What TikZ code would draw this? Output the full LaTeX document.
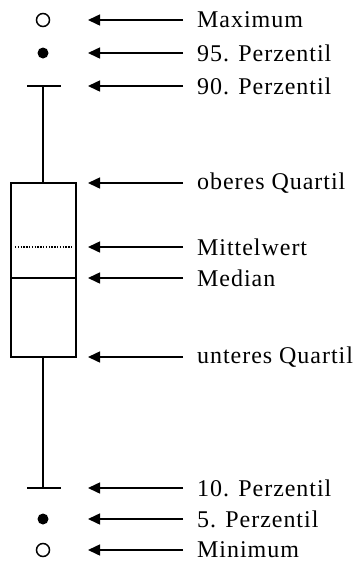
\documentclass[tikz,border=0pt]{standalone}
\usepackage{fontspec}
\setmainfont{Liberation Serif}[LetterSpace=4]
\usetikzlibrary{arrows.meta}
\begin{document}
\begin{tikzpicture}[x=1pt,y=-1pt,
  line/.style={line width=1.5pt,black},
  arr/.style={line width=1.5pt,-{Triangle[length=12pt,width=11pt]}},
  lbl/.style={anchor=west,inner sep=0pt,font=\fontsize{24}{26}\selectfont}]
\useasboundingbox (0,0) rectangle (360,563);
% symbols
\node[circle,draw,line width=1.5pt,minimum size=13pt,inner sep=0pt] (max) at (43,20) {};
\node[circle,fill=black,minimum size=11pt,inner sep=0pt] (p95) at (43,53) {};
\node[circle,fill=black,minimum size=11pt,inner sep=0pt] (p5) at (43,519) {};
\node[circle,draw,line width=1.5pt,minimum size=13pt,inner sep=0pt] (min) at (43,550) {};
\coordinate (p90) at (43,86);
\coordinate (p10) at (43,488);
\coordinate (oq) at (43,183);
\coordinate (uq) at (43,357);
% box
\draw[line] (11,183) rectangle (76,357);
\draw[line] (11,278) -- (76,278);
\draw[line width=1.4pt,dash pattern=on 1.3pt off 1.5pt] (15,247) -- (73,247);
\draw[line] (27,86) -- (61,86);
\draw[line] (27,488) -- (61,488);
\draw[line] (p90) -- (oq);
\draw[line] (uq) -- (p10);
% arrows & labels
\foreach \y/\t/\n in {20/Maximum/a,53/95. Perzentil/b,86/90. Perzentil/c,183/oberes Quartil/d,247/Mittelwert/e,278/Median/f,357/unteres Quartil/g,488/10. Perzentil/h,519/5. Perzentil/i,550/Minimum/j}{
  \node[lbl] (l\n) at (197,\y) {\t};
  \coordinate (s\n) at (183,\y);
  \coordinate (e\n) at (88,\y);
  \draw[arr] (s\n) -- (e\n);
}
\end{tikzpicture}
\end{document}
